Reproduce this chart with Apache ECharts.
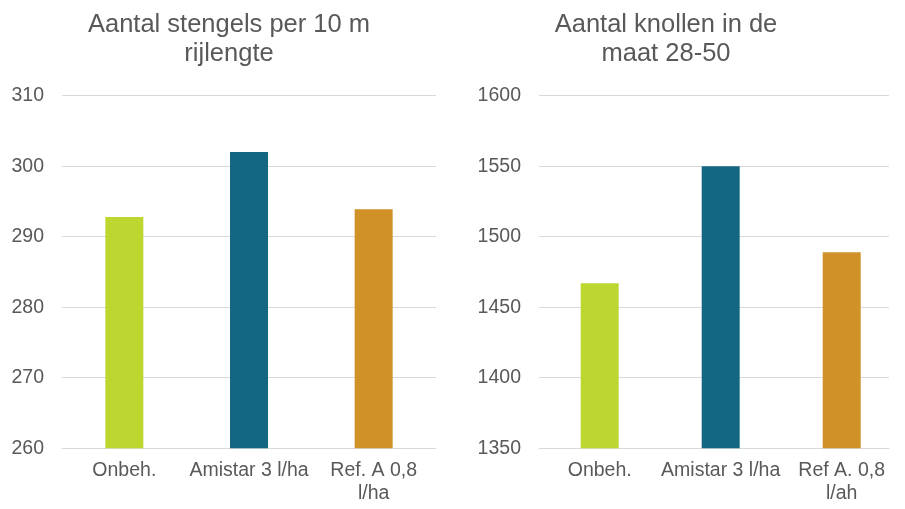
<!DOCTYPE html>
<html><head><meta charset="utf-8">
<script src="https://cdn.jsdelivr.net/npm/echarts@6/dist/echarts.min.js"></script>
<style>html,body{margin:0;padding:0;background:#fff}#c{width:905px;height:509px}</style>
</head><body><div id="c"></div>
<script>
const categoriesLeft = ['Onbeh.', 'Amistar 3 l/ha', 'Ref. A 0,8\nl/ha'];
const valuesLeft = [292.8, 302.0, 293.9];
const categoriesRight = ['Onbeh.', 'Amistar 3 l/ha', 'Ref A. 0,8\nl/ah'];
const valuesRight = [1467, 1550, 1489];
const barColors = ['#BED630', '#136783', '#D09129'];
const titleLeft = 'Aantal stengels per 10 m\nrijlengte';
const titleRight = 'Aantal knollen in de\nmaat 28-50';

const chart = echarts.init(document.getElementById('c'));
const txt = '#595959';
const font = 'Liberation Sans, Arial, sans-serif';
const lblSize = 19.5;
function xAx(i, cats, showLine, showLabel){return {type:'category', gridIndex:i, data:cats,
  axisLine:{show:showLine, lineStyle:{color:'#d9d9d9'}}, axisTick:{show:false},
  axisLabel:{show:showLabel, color:txt, fontSize:lblSize, fontFamily:font, margin:11, lineHeight:23, interval:0}};}
function yAx(i, min, max, step, show){return {type:'value', gridIndex:i, min:min, max:max, interval:step,
  axisLine:{show:false}, axisTick:{show:false},
  splitLine:{show:show, lineStyle:{color:'#d9d9d9'}},
  axisLabel:{show:show, color:txt, fontSize:lblSize, fontFamily:font, margin:18, formatter:v=>String(v)}};}
const tStyle = {color:txt, fontSize:25.5, fontWeight:'normal', fontFamily:font, lineHeight:29};
chart.setOption({
  animation:false,
  title:[
    {text:titleLeft, left:224, top:5, textAlign:'center', textStyle:tStyle},
    {text:titleRight, left:661, top:5, textAlign:'center', textStyle:tStyle}
  ],
  grid:[
    {left:62, right:469, top:95.7, bottom:60.8},
    {left:539, right:16, top:95.7, bottom:60.8},
    {left:539.2, right:2.8, top:95.7, bottom:60.8}
  ],
  xAxis:[xAx(0, categoriesLeft, true, true), xAx(1, categoriesRight, true, false), xAx(2, categoriesRight, false, true)],
  yAxis:[yAx(0, 260, 310, 10, true), yAx(1, 1350, 1600, 50, true), yAx(2, 1350, 1600, 50, false)],
  series:[
    {type:'bar', xAxisIndex:0, yAxisIndex:0, barWidth:38,
     data:valuesLeft.map((v,i)=>({value:v, itemStyle:{color:barColors[i]}}))},
    {type:'bar', xAxisIndex:2, yAxisIndex:2, barWidth:38,
     data:valuesRight.map((v,i)=>({value:v, itemStyle:{color:barColors[i]}}))}
  ]
});
</script></body></html>
